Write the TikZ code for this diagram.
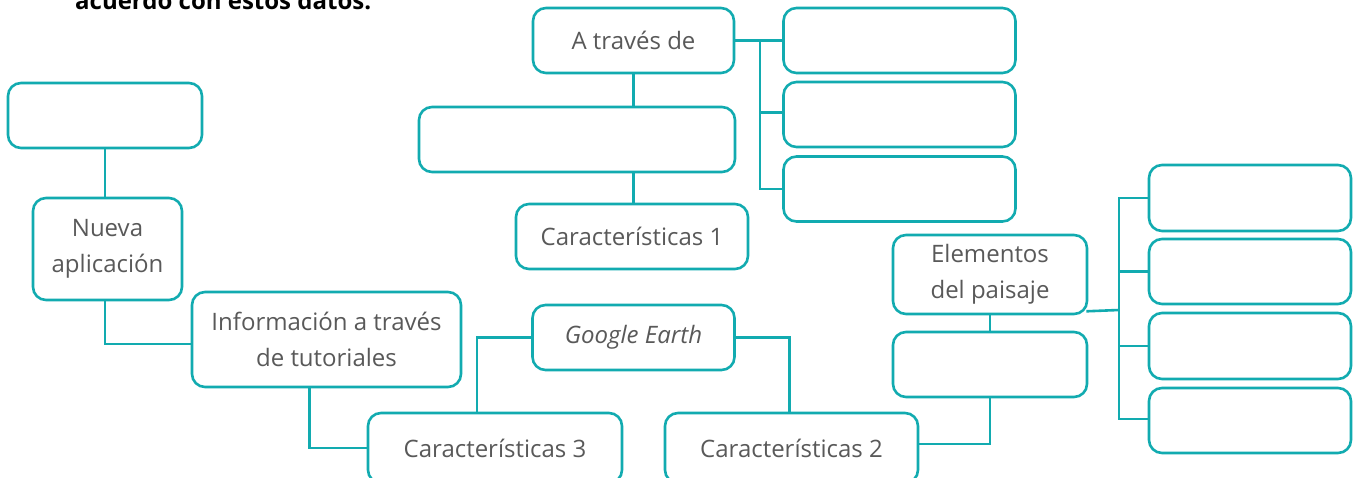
\documentclass[tikz,border=0pt]{standalone}
\usepackage{fontspec}
\setmainfont{Open Sans}
\usetikzlibrary{calc}
\definecolor{tealc}{RGB}{18,171,176}
\definecolor{txtg}{RGB}{89,89,89}
\begin{document}
\begin{tikzpicture}[x=1pt,y=-1pt,
  box/.style={draw=tealc, line width=2.6pt, rounded corners=13pt, fill=white, inner sep=0pt, align=center, text=txtg, font=\fontsize{24}{36}\selectfont},
  conn/.style={draw=tealc, line width=2.6pt}]
\useasboundingbox (0,0) rectangle (1356,478);
\clip (0,0) rectangle (1356,478);
% partial heading
\node[anchor=base west, inner sep=0pt, font=\fontsize{24}{28}\selectfont\bfseries, text=black] (hdr) at (75,9.5) {acuerdo con estos datos.};
% left column
\node[box, minimum width=194pt, minimum height=65pt] (e0) at (105,115.5) {};
\node[box, minimum width=149pt, minimum height=102pt] (nueva) at (107.5,249) {Nueva\\aplicación};
\node[box, minimum width=269pt, minimum height=95pt] (info) at (326.5,339.5) {Información a través\\de tutoriales};
\node[box, minimum width=254pt, minimum height=70pt] (c3) at (495,448) {Características 3};
% centre
\node[box, minimum width=202pt, minimum height=65pt] (ge) at (633.5,337.5) {\textit{Google Earth}};
\node[box, minimum width=253pt, minimum height=70pt] (c2) at (791.5,448) {Características 2};
\node[box, minimum width=201pt, minimum height=65pt] (atr) at (633.5,40.5) {A través de};
\node[box, minimum width=316pt, minimum height=65pt] (m1) at (577,139.5) {};
\node[box, minimum width=232pt, minimum height=65pt] (c1) at (632,236.5) {Características 1};
% right of "A través de"
\node[box, minimum width=232pt, minimum height=65pt] (r1) at (899.5,40.5) {};
\node[box, minimum width=232pt, minimum height=65pt] (r2) at (899.5,114.5) {};
\node[box, minimum width=232pt, minimum height=65pt] (r3) at (899.5,189) {};
% paisaje
\node[box, minimum width=194pt, minimum height=79pt] (el) at (990,274.5) {Elementos\\del paisaje};
\node[box, minimum width=194pt, minimum height=65pt] (m2) at (990,364.5) {};
\node[box, minimum width=202pt, minimum height=66pt] (s1) at (1250,198) {};
\node[box, minimum width=202pt, minimum height=65pt] (s2) at (1250,271.5) {};
\node[box, minimum width=202pt, minimum height=66pt] (s3) at (1250,346) {};
\node[box, minimum width=202pt, minimum height=65pt] (s4) at (1250,420.5) {};
% connectors
\draw[conn] (e0.south) -- (e0.south |- nueva.north);
\draw[conn] (e0.south |- nueva.south) |- ($(info.west)+(0,4.5)$);
\draw[conn] ($(info.south)+(-17,0)$) |- (c3.west);
\draw[conn] (ge.west) -| ($(c3.north)+(-18,0)$);
\draw[conn] (ge.east) -| ($(c2.north)+(-2,0)$);
\draw[conn] (atr.south) -- (atr.south |- m1.north);
\draw[conn] (atr.south |- m1.south) -- (atr.south |- c1.north);
\coordinate (abus) at ($(atr.east)!0.53!(r1.west)$);
\draw[conn] (atr.east) -- (r1.west);
\draw[conn] (abus) |- ($(r2.west)+(0,-2)$);
\draw[conn] (abus) |- (r3.west);
\draw[conn] (el.south) -- (el.south |- m2.north);
\draw[conn] (m2.south) |- ($(c2.east)+(0,-4)$);
\coordinate (ebus) at (1119,310);
\draw[conn] ($(el.south east)+(-2,-4)$) -- (ebus);
\draw[conn] (s1.west) -| (ebus) |- ($(s4.west)+(0,-1.5)$);
\draw[conn] (ebus |- s2.west) -- (s2.west);
\draw[conn] (ebus |- s3.west) -- (s3.west);
\end{tikzpicture}
\end{document}
